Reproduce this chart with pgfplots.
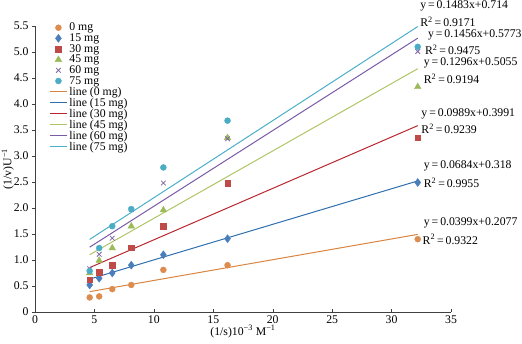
\documentclass[border=0pt]{standalone}
\usepackage{fontspec}
\setmainfont{Liberation Serif}
\usepackage{pgfplots}
\pgfplotsset{compat=1.18}
\definecolor{cO}{HTML}{DB8C4E}
\definecolor{cB}{HTML}{4A7EBB}
\definecolor{cR}{HTML}{BE4B48}
\definecolor{cG}{HTML}{9BBB59}
\definecolor{cP}{HTML}{7F63A1}
\definecolor{cT}{HTML}{4BACC6}
\definecolor{lO}{HTML}{D9843F}
\definecolor{lB}{HTML}{2F6FAE}
\definecolor{lR}{HTML}{B8262F}
\definecolor{lG}{HTML}{AFC565}
\definecolor{lP}{HTML}{7A5AA6}
\definecolor{lT}{HTML}{4AAEC8}
\begin{document}
\begin{tikzpicture}[font=\fontsize{11.8}{13}\selectfont]
\begin{axis}[
  name=ax,
  scale only axis, width=416bp, height=286bp,
  xmin=0, xmax=35, ymin=0, ymax=5.5,
  axis lines=left, axis line style={-, black!75},
  xtick={0,5,...,35}, ytick={0,0.5,...,5.5},
  yticklabels={0,0.5,1.0,1.5,2.0,2.5,3.0,3.5,4.0,4.5,5.0,5.5},
  /pgf/number format/assume math mode=true,
  xtick align=inside, ytick align=outside,
  tick style={black!75, major tick length=3bp},
  xlabel={(1/s)10\textsuperscript{−3} M\textsuperscript{−1}},
  ylabel={(1/v)U\textsuperscript{−1}},
  xlabel style={yshift=5bp},
  ylabel style={yshift=-7bp},
  clip=false,
  legend style={draw=none, fill=none, at={(0.027,1.025)}, anchor=north west,
    row sep=-2.6bp, font=\fontsize{11.8}{13}\selectfont},
  legend cell align=left,
]
\addplot[only marks, mark=*, mark size=3, color=cO] coordinates {(4.6,0.28)(5.4,0.30)(6.5,0.44)(8.1,0.52)(10.8,0.81)(16.2,0.90)(32.2,1.40)};
\addlegendentry{0 mg}
\addplot[only marks, mark=diamond*, mark size=4, color=cB] coordinates {(4.6,0.52)(5.4,0.65)(6.5,0.75)(8.1,0.90)(10.8,1.10)(16.2,1.41)(32.2,2.49)};
\addlegendentry{15 mg}
\addplot[only marks, mark=square*, mark size=2.8, color=cR] coordinates {(4.6,0.62)(5.4,0.77)(6.5,0.90)(8.1,1.24)(10.8,1.65)(16.2,2.48)(32.2,3.35)};
\addlegendentry{30 mg}
\addplot[only marks, mark=triangle*, mark size=3.8, color=cG] coordinates {(4.6,0.75)(5.4,0.99)(6.5,1.23)(8.1,1.65)(10.8,1.96)(16.2,3.35)(32.2,4.33)};
\addlegendentry{45 mg}
\addplot[only marks, mark=x, mark size=3.3, thick, color=cP] coordinates {(4.6,0.83)(5.4,1.11)(6.5,1.42)(8.1,1.97)(10.8,2.48)(16.2,3.33)(32.2,5.01)};
\addlegendentry{60 mg}
\addplot[only marks, mark=*, mark size=3, color=cT] coordinates {(4.6,0.79)(5.4,1.23)(6.5,1.65)(8.1,1.98)(10.8,2.78)(16.2,3.68)(32.2,5.10)};
\addlegendentry{75 mg}
\addplot[lO, line width=1pt] coordinates {(4.6,0.3912)(32.2,1.4925)};
\addlegendentry{line (0 mg)}
\addplot[lB, line width=1pt] coordinates {(4.6,0.6326)(32.2,2.5205)};
\addlegendentry{line (15 mg)}
\addplot[lR, line width=1pt] coordinates {(4.6,0.8540)(32.2,3.5837)};
\addlegendentry{line (30 mg)}
\addplot[lG, line width=1pt] coordinates {(4.6,1.1017)(32.2,4.6786)};
\addlegendentry{line (45 mg)}
\addplot[lP, line width=1pt] coordinates {(4.6,1.2471)(32.2,5.2656)};
\addlegendentry{line (60 mg)}
\addplot[lT, line width=1pt] coordinates {(4.6,1.3962)(32.2,5.4893)};
\addlegendentry{line (75 mg)}
\node[anchor=west, inner sep=0] at (axis cs:32.4,5.88) {y\,=\,0.1483x+0.714};
\node[anchor=west, inner sep=0] at (axis cs:32.4,5.58) {R\textsuperscript{2}\,=\,0.9171};
\node[anchor=west, inner sep=0] at (axis cs:33.05,5.33) {y\,=\,0.1456x+0.5773};
\node[anchor=west, inner sep=0] at (axis cs:32.8,5.04) {R\textsuperscript{2}\,=\,0.9475};
\node[anchor=west, inner sep=0] at (axis cs:32.7,4.79) {y\,=\,0.1296x+0.5055};
\node[anchor=west, inner sep=0] at (axis cs:32.7,4.48) {R\textsuperscript{2}\,=\,0.9194};
\node[anchor=west, inner sep=0] at (axis cs:32.5,3.81) {y\,=\,0.0989x+0.3991};
\node[anchor=west, inner sep=0] at (axis cs:32.5,3.52) {R\textsuperscript{2}\,=\,0.9239};
\node[anchor=west, inner sep=0] at (axis cs:32.7,2.81) {y\,=\,0.0684x+0.318};
\node[anchor=west, inner sep=0] at (axis cs:32.7,2.48) {R\textsuperscript{2}\,=\,0.9955};
\node[anchor=west, inner sep=0] at (axis cs:32.7,1.71) {y\,=\,0.0399x+0.2077};
\node[anchor=west, inner sep=0] at (axis cs:32.6,1.40) {R\textsuperscript{2}\,=\,0.9322};
\end{axis}
\pgfresetboundingbox
\path ([xshift=-35bp,yshift=-32bp]ax.south west) rectangle ([xshift=71bp,yshift=26bp]ax.north east);
\end{tikzpicture}
\end{document}
